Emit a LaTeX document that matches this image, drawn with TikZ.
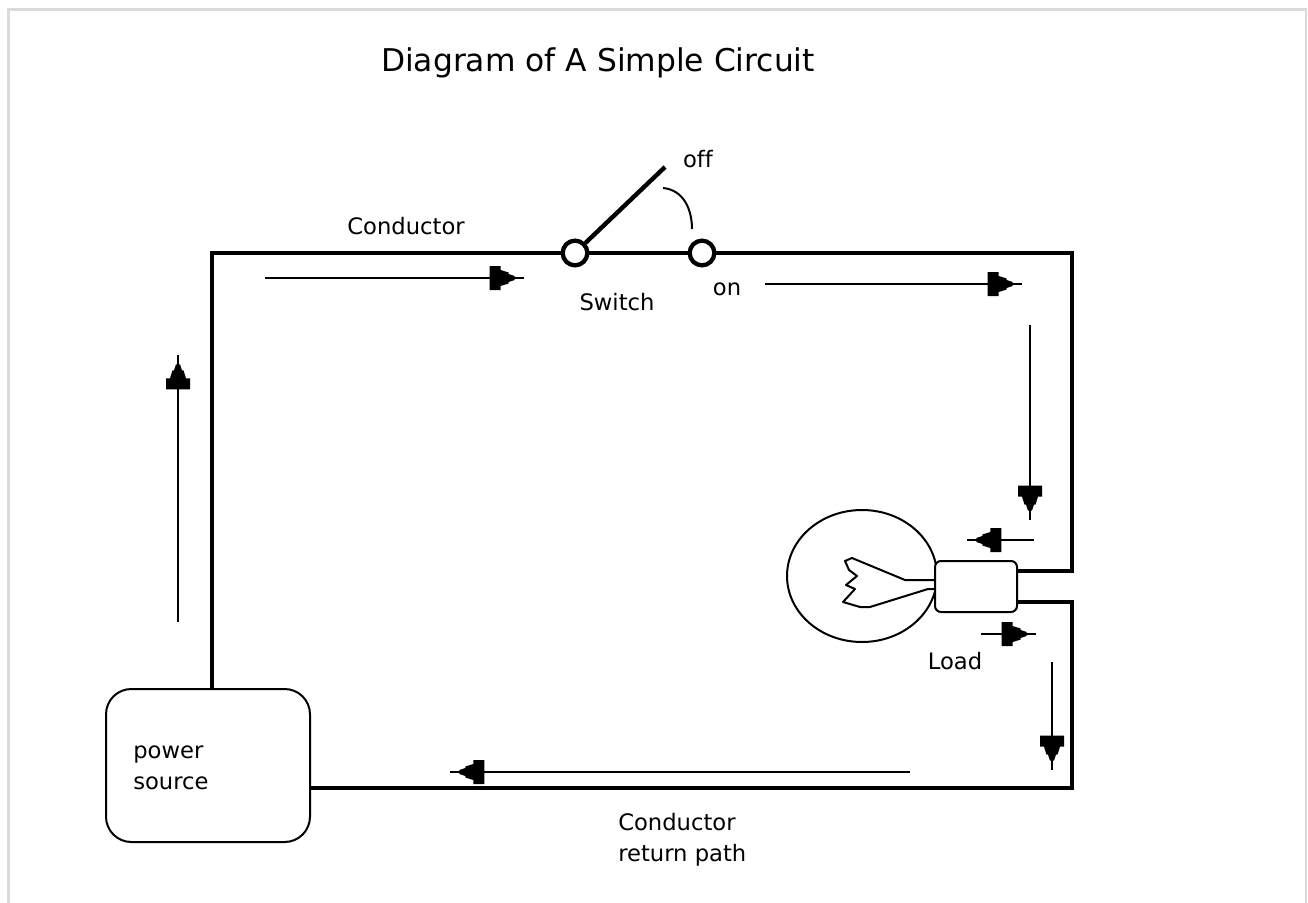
\documentclass[tikz,border=0pt]{standalone}
\usepackage{fontspec}
\setmainfont[Ligatures=NoCommon]{DejaVu Sans}
\usetikzlibrary{shapes.geometric,decorations.markings}
\tikzset{
  wire/.style={line width=3.3pt, line join=miter},
  thin/.style={line width=1.5pt},
  frame/.style={line width=2.2pt, draw={rgb,255:red,218;green,218;blue,218}},
  flow/.style={line width=1.5pt, postaction={decorate},
    decoration={markings, mark=at position -7pt with {
      \fill[black] (-25,12) -- (-14,12) -- (-14,8) -- (-6,5.5) -- (-6,4) -- (0,2) -- (0,-2) -- (-6,-4) -- (-6,-5.5) -- (-14,-8) -- (-14,-12) -- (-25,-12) -- cycle;}}},
  lbl/.style={font=\fontsize{17}{23}\selectfont, inner sep=0pt},
  swc/.style={circle, draw, line width=3.2pt, fill=white, minimum size=18.5pt, inner sep=0pt},
}
\begin{document}
\begin{tikzpicture}[x=0.75pt, y=-0.75pt]
\useasboundingbox (0,0) rectangle (1308,902);
\fill[white] (0,0) rectangle (1308,902);
% frame
\draw[frame] (8.5,910) -- (8.5,9.5) -- (1306,9.5) -- (1306,910);

% title
\node[font=\fontsize{23.5}{28}\selectfont, inner sep=0pt] (title) at (598,63) {Diagram of A Simple Circuit};

% components
\node[draw, thin, rounded corners=19pt, minimum width=153pt, minimum height=114.75pt, inner sep=0pt] (psrc) at (208,765.5) {};
\node[lbl, anchor=west, align=left] (pstext) at (133,768) {power\\source};

\node[swc] (swL) at (575,253) {};
\node[swc] (swR) at (702,253) {};

\node[ellipse, draw, thin, minimum width=112.5pt, minimum height=99pt, inner sep=0pt] (bulb) at (862,576) {};
\node[draw, thin, fill=white, rounded corners=4.5pt, minimum width=61.5pt, minimum height=38.25pt, inner sep=0pt] (base) at (976,586.5) {};

% filament
\draw[thin, line join=round] (935,580) -- (905,580) -- (852,558) -- (845,561) -- (849,570) -- (857,576) -- (846,585) -- (855,589) -- (843,602) -- (860,607) -- (870,607) -- (928,589) -- (935,589);

% wires
\coordinate (PT) at (212,689);
\coordinate (TL) at (212,253);
\coordinate (TR) at (1072,253);
\coordinate (R1) at (1072,571);
\coordinate (R2) at (1072,602);
\coordinate (BR) at (1072,788);
\draw[wire] (PT) -- (TL) -- (swL);
\draw[wire] (swL) -- (swR);
\draw[wire] (swR) -- (TR) -- (R1) -- (base.east |- R1);
\draw[wire] (base.east |- R2) -- (R2) -- (BR) -- (BR -| psrc.east);
% switch lever
\coordinate (lever) at (665,167);
\draw[wire] (swL.44) -- (lever);
\coordinate (arcA) at (663,188);
\coordinate (arcB) at (692,229);
\draw[thin] (arcA) .. controls (684,190) and (692,210) .. (arcB);

% labels
\node[lbl] (lcond) at (406,226) {Conductor};
\node[lbl] (loff) at (698,159) {off};
\node[lbl] (lsw) at (617,302) {Switch};
\node[lbl] (lon) at (727,289) {on};
\node[lbl] (lload) at (955,661) {Load};
\node[lbl, anchor=west, align=left] (lret) at (618,840) {Conductor\\return path};

% flow arrows
\coordinate (a1s) at (265,278); \coordinate (a1e) at (524,278);
\coordinate (a2s) at (765,284); \coordinate (a2e) at (1022,284);
\coordinate (a3s) at (178,622); \coordinate (a3e) at (178,355);
\coordinate (a4s) at (1030,325); \coordinate (a4e) at (1030,520);
\coordinate (a5s) at (1034,540); \coordinate (a5e) at (967,540);
\coordinate (a6s) at (981,634); \coordinate (a6e) at (1036,634);
\coordinate (a7s) at (1052,662); \coordinate (a7e) at (1052,770);
\coordinate (a8s) at (910,772); \coordinate (a8e) at (450,772);
\draw[flow] (a1s) -- (a1e);
\draw[flow] (a2s) -- (a2e);
\draw[flow] (a3s) -- (a3e);
\draw[flow] (a4s) -- (a4e);
\draw[flow] (a5s) -- (a5e);
\draw[flow] (a6s) -- (a6e);
\draw[flow] (a7s) -- (a7e);
\draw[flow] (a8s) -- (a8e);
\end{tikzpicture}
\end{document}
